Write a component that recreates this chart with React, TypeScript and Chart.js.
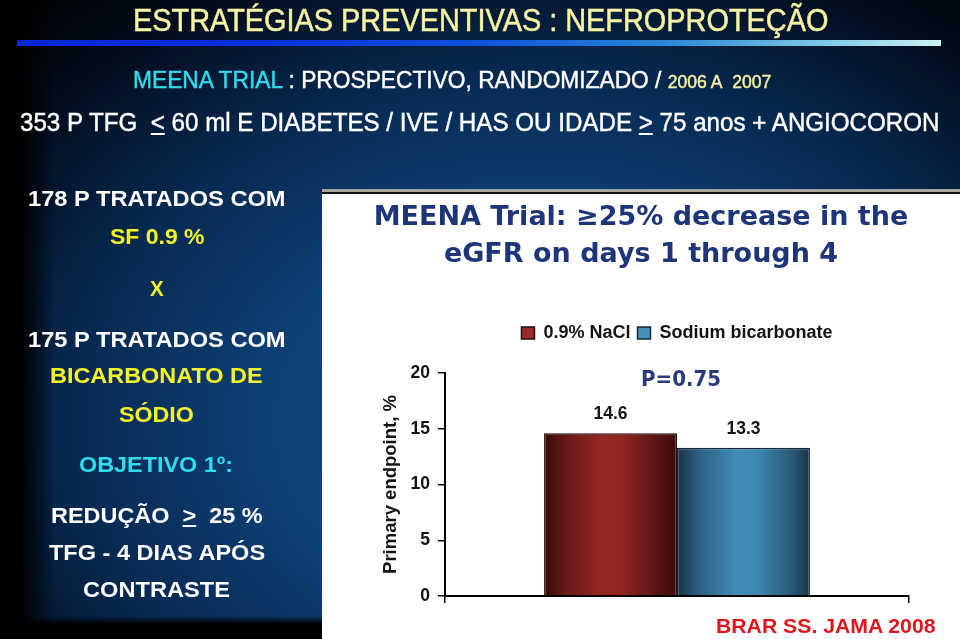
import React, { useEffect, useLayoutEffect, useRef, useState } from 'react';
import { Chart, registerables } from 'chart.js';

Chart.register(...registerables);

// ---------- data ----------
const CATEGORIES = ['≥25% decrease in eGFR'];
const SERIES_NAMES = ['0.9% NaCl', 'Sodium bicarbonate'];
const NACL_VALUES = [14.6];
const BICARB_VALUES = [13.3];
const Y_TICKS = [0, 5, 10, 15, 20];
const CHART_TITLE = ['MEENA Trial: ≥25% decrease in the', 'eGFR on days 1 through 4'];
const Y_TITLE = 'Primary endpoint, %';
const P_VALUE_TEXT = 'P=0.75';
const SOURCE_TEXT = 'BRAR SS. JAMA 2008';

// ---------- styles ----------
const SOLID_COLORS = ['#98282a', '#4690bc'];
const BORDER_COLORS = ['#2a0a0a', '#11283a'];
const BAR_SHADES: [number, string][][] = [
  [[0, '#3a0b0b'], [0.18, '#6c1a18'], [0.45, '#962823'], [0.6, '#8e2521'], [0.85, '#5a1414'], [1, '#3a0c0c']],
  [[0, '#1a3446'], [0.18, '#2d6484'], [0.45, '#418cb6'], [0.6, '#3e87b0'], [0.85, '#295c7a'], [1, '#1a3446']],
];
const NARROW = '"Liberation Sans Narrow", "Liberation Sans", Arial, sans-serif';
const SANS = '"Liberation Sans", Arial, sans-serif';
const VERDANA = '"DejaVu Sans", Verdana, sans-serif';
const YELLOW = '#f2f226';
const PALE_YELLOW = '#f6f4a2';
const CYAN = '#2fdcef';

const barShadePlugin = {
  id: 'barShade',
  beforeDatasetsDraw(chart: any) {
    const ctx = chart.ctx;
    chart.data.datasets.forEach((_ds: any, di: number) => {
      const meta = chart.getDatasetMeta(di);
      const stops = BAR_SHADES[di];
      meta.data.forEach((el: any) => {
        const { x, width } = el.getProps(['x', 'width'], true);
        const g = ctx.createLinearGradient(x - width / 2, 0, x + width / 2, 0);
        stops.forEach(([o, c]) => g.addColorStop(o, c));
        el.options = Object.assign({}, el.options, { backgroundColor: g });
      });
    });
  },
};

const annotatePlugin = {
  id: 'annotate',
  afterDatasetsDraw(chart: any) {
    const ctx = chart.ctx;
    ctx.save();
    ctx.textAlign = 'center';
    ctx.textBaseline = 'middle';
    ctx.font = `bold 17.5px ${SANS}`;
    ctx.fillStyle = '#161616';
    chart.data.datasets.forEach((ds: any, di: number) => {
      chart.getDatasetMeta(di).data.forEach((el: any, i: number) => {
        const { x, y } = el.getProps(['x', 'y'], true);
        ctx.fillText(String(ds.data[i]), x, y - 19);
      });
    });
    const area = chart.chartArea;
    ctx.font = `bold 22px "DejaVu Sans Condensed", "DejaVu Sans", sans-serif`;
    ctx.fillStyle = '#2a3a7c';
    ctx.fillText(P_VALUE_TEXT, (area.left + area.right) / 2 + 4, area.top + 7);
    ctx.restore();
  },
};

function FitText(props: {
  x0: number; x1: number; cy: number; size: number; color: string;
  weight?: string | number; family?: string; stroke?: number; children: React.ReactNode;
}) {
  const { x0, x1, cy, size, color, weight = 'normal', family = SANS, stroke = 0, children } = props;
  const ref = useRef<HTMLDivElement>(null);
  const [scale, setScale] = useState(1);
  useLayoutEffect(() => {
    const el = ref.current;
    if (!el) return;
    const w = el.offsetWidth;
    if (w > 0) setScale((x1 - x0) / w);
  }, [x0, x1]);
  return (
    <div
      ref={ref}
      style={{
        position: 'absolute',
        left: x0,
        top: cy - size / 2,
        height: size,
        lineHeight: `${size}px`,
        fontSize: size,
        fontFamily: family,
        fontWeight: weight as any,
        color,
        whiteSpace: 'nowrap',
        transform: `scaleX(${scale})`,
        transformOrigin: '0 50%',
        WebkitTextStroke: stroke ? `${stroke}px currentColor` : undefined,
      }}
    >
      {children}
    </div>
  );
}

function BarChart() {
  const canvasRef = useRef<HTMLCanvasElement>(null);
  useEffect(() => {
    const canvas = canvasRef.current;
    if (!canvas) return;
    const tickFont = { family: SANS, weight: 'bold' as const, size: 17.5 };
    const chart = new Chart(canvas, {
      type: 'bar',
      data: {
        labels: CATEGORIES,
        datasets: [
          {
            label: SERIES_NAMES[0],
            data: NACL_VALUES,
            backgroundColor: SOLID_COLORS[0],
            borderColor: BORDER_COLORS[0],
            borderWidth: 1.5,
          },
          {
            label: SERIES_NAMES[1],
            data: BICARB_VALUES,
            backgroundColor: SOLID_COLORS[1],
            borderColor: BORDER_COLORS[1],
            borderWidth: 1.5,
          },
        ],
      },
      options: {
        animation: false,
        responsive: false,
        maintainAspectRatio: false,
        devicePixelRatio: 1,
        events: [],
        layout: { padding: { top: 0, left: 0, right: 0, bottom: 36 } },
        datasets: { bar: { categoryPercentage: 0.573, barPercentage: 1 } },
        plugins: {
          title: {
            display: true,
            text: CHART_TITLE,
            color: '#1f3579',
            font: { family: VERDANA, weight: 'bold', size: 27, lineHeight: 37 / 27 },
            padding: { top: 5.5, bottom: 43.5 },
          },
          legend: {
            display: true,
            fullSize: false,
            labels: {
              boxWidth: 13,
              boxHeight: 12,
              padding: 7,
              color: '#141414',
              font: { family: SANS, weight: 'bold', size: 18 },
            },
          },
          tooltip: { enabled: false },
        },
        scales: {
          x: {
            type: 'category',
            offset: true,
            grid: { offset: true, drawOnChartArea: false, drawTicks: true, tickLength: 7, color: '#000', lineWidth: 1.5 },
            border: { display: true, color: '#000', width: 2 },
            ticks: { display: false },
          },
          xTop: {
            type: 'category',
            position: 'top',
            grid: { display: false },
            border: { display: false },
            ticks: { display: false },
            afterFit: (s: any) => { s.height = 21; },
          },
          y: {
            type: 'linear',
            position: 'left',
            min: Y_TICKS[0],
            max: Y_TICKS[Y_TICKS.length - 1],
            afterBuildTicks: (s: any) => { s.ticks = Y_TICKS.map((v) => ({ value: v })); },
            ticks: { padding: 8, color: '#141414', font: tickFont },
            grid: { drawOnChartArea: false, drawTicks: true, tickLength: 7, color: '#000', lineWidth: 1.5 },
            border: { display: true, color: '#000', width: 2 },
            title: {
              display: true,
              text: Y_TITLE,
              color: '#141414',
              font: { family: SANS, weight: 'bold', size: 18.5, lineHeight: 1.2 },
              padding: { top: 57.9, bottom: 0 },
            },
            afterFit: (s: any) => { s.width = 123; },
          },
          yRight: {
            type: 'linear',
            position: 'right',
            min: 0,
            max: 20,
            grid: { display: false },
            border: { display: false },
            ticks: { display: false },
            afterFit: (s: any) => { s.width = 51; },
          },
        },
      } as any,
      plugins: [barShadePlugin, annotatePlugin],
    });
    return () => chart.destroy();
  }, []);
  return <canvas ref={canvasRef} width={638} height={445} style={{ display: 'block', width: 638, height: 445 }} />;
}

export default function App() {
  const U = (s: string) => <span style={{ textDecoration: 'underline' }}>{s}</span>;
  return (
    <div
      style={{
        position: 'fixed',
        left: 0,
        top: 0,
        width: 960,
        height: 639,
        overflow: 'hidden',
        background: [
          'linear-gradient(to right, #000 0px, #000 20px, rgba(0,0,0,0) 55px)',
          'linear-gradient(to bottom, rgba(0,0,0,0) 616px, #000 624px)',
          'radial-gradient(ellipse 80% 90% at 56% 66%, #124d8a 0%, #0e3f74 36%, #072a52 60%, #020c1c 84%, #000 100%)',
        ].join(', '),
      }}
    >
      {/* header */}
      <FitText x0={133} x1={828} cy={20} size={31} color={PALE_YELLOW} family={NARROW} stroke={0.5}>
        ESTRATÉGIAS PREVENTIVAS : NEFROPROTEÇÃO
      </FitText>
      <div
        style={{
          position: 'absolute',
          left: 17,
          top: 40,
          width: 924,
          height: 6,
          background: 'linear-gradient(to right, #0a26d4 0%, #0a2ee0 25%, #0e52dc 50%, #2a86d8 70%, #7cc8e6 87%, #cdf2f2 100%)',
        }}
      />
      <FitText x0={133} x1={771} cy={80} size={24} color="#fff" family={NARROW} stroke={0.45}>
        <span style={{ color: CYAN }}>MEENA TRIAL</span> : PROSPECTIVO, RANDOMIZADO /{' '}
        <span style={{ color: PALE_YELLOW, fontSize: 18.5 }}>2006 A&nbsp; 2007</span>
      </FitText>
      <FitText x0={20} x1={940} cy={122} size={25} color="#fff" family={NARROW} stroke={0.45}>
        353 P TFG&nbsp; {U('<')} 60 ml E DIABETES / IVE / HAS OU IDADE {U('>')} 75 anos + ANGIOCORON
      </FitText>

      {/* left column */}
      <FitText x0={28} x1={286} cy={199} size={22} color="#fff" weight="bold">178 P TRATADOS COM</FitText>
      <FitText x0={110} x1={204} cy={237} size={22} color={YELLOW} weight="bold">SF 0.9 %</FitText>
      <FitText x0={150} x1={164} cy={289} size={22} color={YELLOW} weight="bold">X</FitText>
      <FitText x0={28} x1={286} cy={340} size={22} color="#fff" weight="bold">175 P TRATADOS COM</FitText>
      <FitText x0={50} x1={263} cy={376} size={22} color={YELLOW} weight="bold">BICARBONATO DE</FitText>
      <FitText x0={119} x1={194} cy={415} size={22} color={YELLOW} weight="bold">SÓDIO</FitText>
      <FitText x0={79} x1={233} cy={465} size={22} color={CYAN} weight="bold">OBJETIVO 1º:</FitText>
      <FitText x0={51} x1={263} cy={516} size={22} color="#fff" weight="bold">
        REDUÇÃO&nbsp; {U('>')}&nbsp; 25 %
      </FitText>
      <FitText x0={49} x1={265} cy={553} size={22} color="#fff" weight="bold">TFG - 4 DIAS APÓS</FitText>
      <FitText x0={83} x1={230} cy={590} size={22} color="#fff" weight="bold">CONTRASTE</FitText>

      {/* chart panel */}
      <div style={{ position: 'absolute', left: 322, top: 189, width: 638, height: 3, background: '#a7a59d' }} />
      <div style={{ position: 'absolute', left: 322, top: 192, width: 638, height: 2, background: '#111' }} />
      <div style={{ position: 'absolute', left: 322, top: 194, width: 638, height: 445, background: '#fff' }}>
        <BarChart />
      </div>
      <FitText x0={716} x1={935} cy={625} size={21} color="#e2141c" weight="bold">{SOURCE_TEXT}</FitText>
    </div>
  );
}
